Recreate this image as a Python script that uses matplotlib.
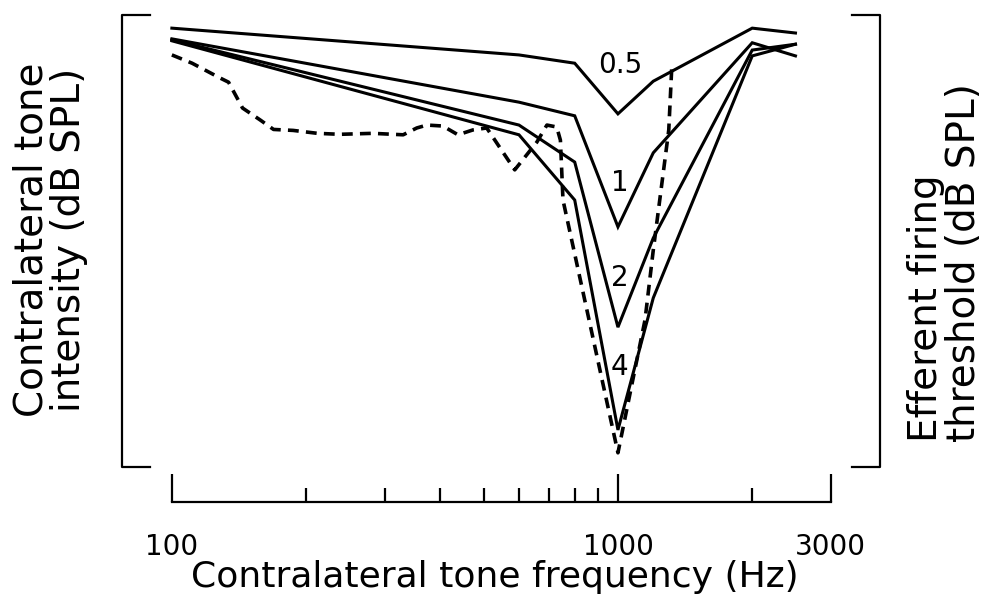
import matplotlib
matplotlib.use('Agg')
import matplotlib.pyplot as plt
from matplotlib.ticker import FixedLocator, NullFormatter

# contralateral tone curves (one per level label)
freqs = [100, 600, 800, 1000, 1200, 2000, 2500]
level_05 = [97.3, 91.8, 90.1, 79.7, 86.4, 97.3, 96.3]
level_1 = [95.1, 82.1, 79.3, 56.5, 71.7, 94.3, 91.6]
level_2 = [94.9, 77.4, 69.8, 35.9, 54.2, 92.8, 94.0]
level_4 = [94.7, 75.4, 62.0, 14.8, 41.9, 91.6, 94.0]
curve_names = ['0.5', '1', '2', '4']
name_freq = 1010
name_level = [89.7, 65.5, 46.0, 27.7]

# efferent firing threshold (dashed)
thr_freq = [100, 111, 128, 134, 144, 158, 169, 187, 212, 238, 282, 330, 354,
            373, 405, 438, 473, 508, 587, 658, 693, 729, 743, 753, 1000,
            1150, 1200, 1300, 1320]
thr_level = [91.8, 90.1, 87.1, 86.2, 80.9, 78.4, 76.5, 76.3, 75.7, 75.5,
             75.7, 75.4, 76.8, 77.4, 77.2, 75.4, 76.4, 76.8, 68.2, 73.9,
             77.4, 77.0, 74.3, 62.0, 10.1, 37.4, 51.7, 76.4, 89.1]

major_ticks = [100, 1000, 3000]
minor_ticks = [200, 300, 400, 500, 600, 700, 800, 900, 2000]
tick_labels = ['100', '1000', '3000']

fig = plt.figure(figsize=(9.87, 5.95), dpi=100)
ax = fig.add_axes([0.1236, 0.1563, 0.768, 0.8185])
ax.set_xscale('log')
ax.set_xlim(77.3, 3868)
ax.set_ylim(0, 100)

for lev in [level_05, level_1, level_2, level_4]:
    ax.plot(freqs, lev, color='black', lw=2.2, solid_joinstyle='miter', clip_on=False)
ax.plot(thr_freq, thr_level, color='black', lw=2.6, linestyle=(0, (3, 2)), clip_on=False)

for name, lev in zip(curve_names, name_level):
    ax.text(name_freq, lev, name, fontsize=20, ha='center', va='center')

# brackets standing in for the y axes
ax.plot([0.037, 0, 0, 0.037], [1, 1, 0.072, 0.072], transform=ax.transAxes,
        color='black', lw=1.6, clip_on=False)
ax.plot([0.963, 1, 1, 0.963], [1, 1, 0.072, 0.072], transform=ax.transAxes,
        color='black', lw=1.6, clip_on=False)

for side in ['top', 'left', 'right']:
    ax.spines[side].set_visible(False)
ax.spines['bottom'].set_bounds(100, 3000)
ax.spines['bottom'].set_linewidth(1.6)
ax.set_yticks([])
ax.xaxis.set_major_locator(FixedLocator(major_ticks))
ax.xaxis.set_minor_locator(FixedLocator(minor_ticks))
ax.xaxis.set_minor_formatter(NullFormatter())
ax.set_xticklabels(tick_labels)
ax.tick_params(axis='x', which='major', direction='in', length=20, width=1.6,
               pad=22, labelsize=20)
ax.tick_params(axis='x', which='minor', direction='in', length=10, width=1.6)
ax.patch.set_visible(False)

fig.text(0.5015, 0.0135, 'Contralateral tone frequency (Hz)', fontsize=26,
         ha='center', va='baseline')
fig.text(0.0507, 0.597, 'Contralateral tone\nintensity (dB SPL)', fontsize=28,
         rotation=90, ha='center', va='center', multialignment='center',
         linespacing=1.0)
fig.text(0.9574, 0.257, 'Efferent firing\nthreshold (dB SPL)', fontsize=28,
         rotation=90, ha='center', va='bottom', multialignment='left',
         linespacing=1.0)

fig.savefig('out.png', dpi=100)
